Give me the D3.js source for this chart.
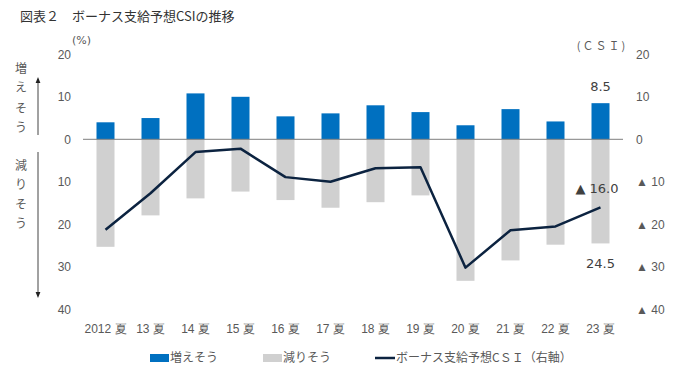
<!DOCTYPE html>
<head>
    <meta charset="utf-8">
    <title>ボーナス支給予想CSIの推移</title>
    <style>
        body { margin: 0; background: #fff; }
        svg { font-family: "DejaVu Sans", "Noto Sans CJK JP", sans-serif; }
        .tick text { fill: #595959; font-size: 12px; }
        .jp { font-family: "Noto Sans CJK JP", sans-serif; fill: #404040; }
    </style>
</head>
<body>
<svg width="680" height="374"></svg>
<script src="https://d3js.org/d3.v7.min.js"></script>
<script>

var categories = ["2012 夏", "13 夏", "14 夏", "15 夏", "16 夏", "17 夏", "18 夏", "19 夏", "20 夏", "21 夏", "22 夏", "23 夏"];
var increase = [4.0, 5.0, 10.8, 10.0, 5.4, 6.1, 8.0, 6.4, 3.3, 7.1, 4.2, 8.5];
var decrease = [25.3, 17.9, 13.9, 12.3, 14.3, 16.1, 14.8, 13.2, 33.3, 28.5, 24.8, 24.5];
var csi = [-21.3, -12.7, -3.0, -2.2, -8.9, -10.0, -6.8, -6.6, -30.2, -21.4, -20.5, -16.0];
var yTicks = [20, 10, 0, -10, -20, -30, -40];

var svg = d3.select("svg");

var x = d3.scaleBand()
    .domain(categories)
    .range([83, 623])
    .paddingInner(0.6)
    .paddingOuter(0.3);

var y = d3.scaleLinear()
    .domain([20, -40])
    .range([54.3, 309.3]);

// title
svg.append("text")
    .attr("class", "jp")
    .attr("x", 20).attr("y", 21)
    .style("font-size", "13px")
    .style("fill", "#333")
    .text("図表２　ボーナス支給予想CSIの推移");

// bars
svg.append("g").selectAll("rect")
    .data(decrease)
    .enter().append("rect")
    .attr("x", function(d, i) { return x(categories[i]); })
    .attr("y", y(0))
    .attr("width", x.bandwidth())
    .attr("height", function(d) { return y(-d) - y(0); })
    .attr("fill", "#d0d0d0");

svg.append("g").selectAll("rect")
    .data(increase)
    .enter().append("rect")
    .attr("x", function(d, i) { return x(categories[i]); })
    .attr("y", function(d) { return y(d); })
    .attr("width", x.bandwidth())
    .attr("height", function(d) { return y(0) - y(d); })
    .attr("fill", "#0070c0");

// zero line
svg.append("line")
    .attr("x1", 83).attr("x2", 623)
    .attr("y1", y(0)).attr("y2", y(0))
    .attr("stroke", "#7f7f7f").attr("stroke-width", 1);

// CSI line
var line = d3.line()
    .x(function(d, i) { return x(categories[i]) + x.bandwidth() / 2; })
    .y(function(d) { return y(d); });

svg.append("path")
    .datum(csi)
    .attr("d", line)
    .attr("fill", "none")
    .attr("stroke", "#0c2340")
    .attr("stroke-width", 2.5)
    .attr("stroke-linejoin", "round");

// axes
var left = svg.append("g")
    .attr("transform", "translate(71,0)")
    .call(d3.axisLeft(y).tickValues(yTicks).tickSize(0).tickPadding(0)
        .tickFormat(function(d) { return Math.abs(d); }));
left.select(".domain").remove();

var right = svg.append("g")
    .attr("transform", "translate(636,0)")
    .call(d3.axisRight(y).tickValues(yTicks).tickSize(0).tickPadding(0)
        .tickFormat(function(d) { return d < 0 ? "▲ " + (-d) : d; }));
right.select(".domain").remove();

var bottom = svg.append("g")
    .attr("transform", "translate(0,324)")
    .call(d3.axisBottom(x).tickSize(0).tickPadding(0));
bottom.select(".domain").remove();
bottom.selectAll("text").attr("dy", "0.71em");

// units
svg.append("text").attr("x", 72).attr("y", 44)
    .style("font-size", "11px").style("fill", "#595959").text("(%)");
svg.append("text").attr("class", "jp").attr("x", 602).attr("y", 50)
    .attr("text-anchor", "middle")
    .style("font-size", "11px").style("fill", "#595959").style("letter-spacing", "2px")
    .text("(ＣＳＩ)");

// value labels for last period
var last = categories.length - 1;
var cx = x(categories[last]) + x.bandwidth() / 2;
svg.append("text").attr("x", cx).attr("y", y(increase[last]) - 12)
    .attr("text-anchor", "middle").style("font-size", "13px").style("fill", "#404040")
    .text(increase[last].toFixed(1));
svg.append("text").attr("x", cx).attr("y", y(-decrease[last]) + 25)
    .attr("text-anchor", "middle").style("font-size", "13px").style("fill", "#404040")
    .text(decrease[last].toFixed(1));
svg.append("text").attr("x", cx + 18).attr("y", y(csi[last]) - 14)
    .attr("text-anchor", "end").style("font-size", "13px").style("fill", "#404040")
    .text("▲ " + (-csi[last]).toFixed(1));

// side annotations
svg.append("defs").selectAll("marker")
    .data(["head"])
    .enter().append("marker")
    .attr("id", "head")
    .attr("viewBox", "0 0 10 10")
    .attr("refX", 5).attr("refY", 5)
    .attr("markerWidth", 6).attr("markerHeight", 6)
    .attr("orient", "auto")
    .append("path").attr("d", "M0,1L10,5L0,9Z").attr("fill", "#222");

svg.append("line").attr("x1", 38).attr("x2", 38).attr("y1", 135).attr("y2", 80)
    .attr("stroke", "#444").attr("stroke-width", 1).attr("marker-end", "url(#head)");
svg.append("line").attr("x1", 38).attr("x2", 38).attr("y1", 152).attr("y2", 295)
    .attr("stroke", "#444").attr("stroke-width", 1).attr("marker-end", "url(#head)");

var upChars = ["増", "え", "そ", "う"], upY = [69, 88, 109, 128];
var downChars = ["減", "り", "そ", "う"], downY = [166, 185, 205, 224];
svg.append("g").selectAll("text").data(upChars).enter().append("text")
    .attr("class", "jp").attr("x", 21).attr("y", function(d, i) { return upY[i]; })
    .attr("dy", "0.35em").attr("text-anchor", "middle")
    .style("font-size", "12px").style("fill", "#595959").text(function(d) { return d; });
svg.append("g").selectAll("text").data(downChars).enter().append("text")
    .attr("class", "jp").attr("x", 21).attr("y", function(d, i) { return downY[i]; })
    .attr("dy", "0.35em").attr("text-anchor", "middle")
    .style("font-size", "12px").style("fill", "#595959").text(function(d) { return d; });

// legend
var legend = svg.append("g").attr("class", "legend");
legend.append("rect").attr("x", 150).attr("y", 354).attr("width", 19).attr("height", 8).attr("fill", "#0070c0");
legend.append("text").attr("class", "jp").attr("x", 170).attr("y", 358).attr("dy", "0.35em")
    .style("font-size", "12px").style("fill", "#595959").text("増えそう");
legend.append("rect").attr("x", 263).attr("y", 354).attr("width", 19).attr("height", 8).attr("fill", "#d0d0d0");
legend.append("text").attr("class", "jp").attr("x", 283).attr("y", 358).attr("dy", "0.35em")
    .style("font-size", "12px").style("fill", "#595959").text("減りそう");
legend.append("line").attr("x1", 375).attr("x2", 395).attr("y1", 358).attr("y2", 358)
    .attr("stroke", "#0c2340").attr("stroke-width", 2.5);
legend.append("text").attr("class", "jp").attr("x", 396).attr("y", 358).attr("dy", "0.35em")
    .style("font-size", "12px").style("fill", "#595959").text("ボーナス支給予想CＳＩ（右軸）");

</script>
</body>
</html>
